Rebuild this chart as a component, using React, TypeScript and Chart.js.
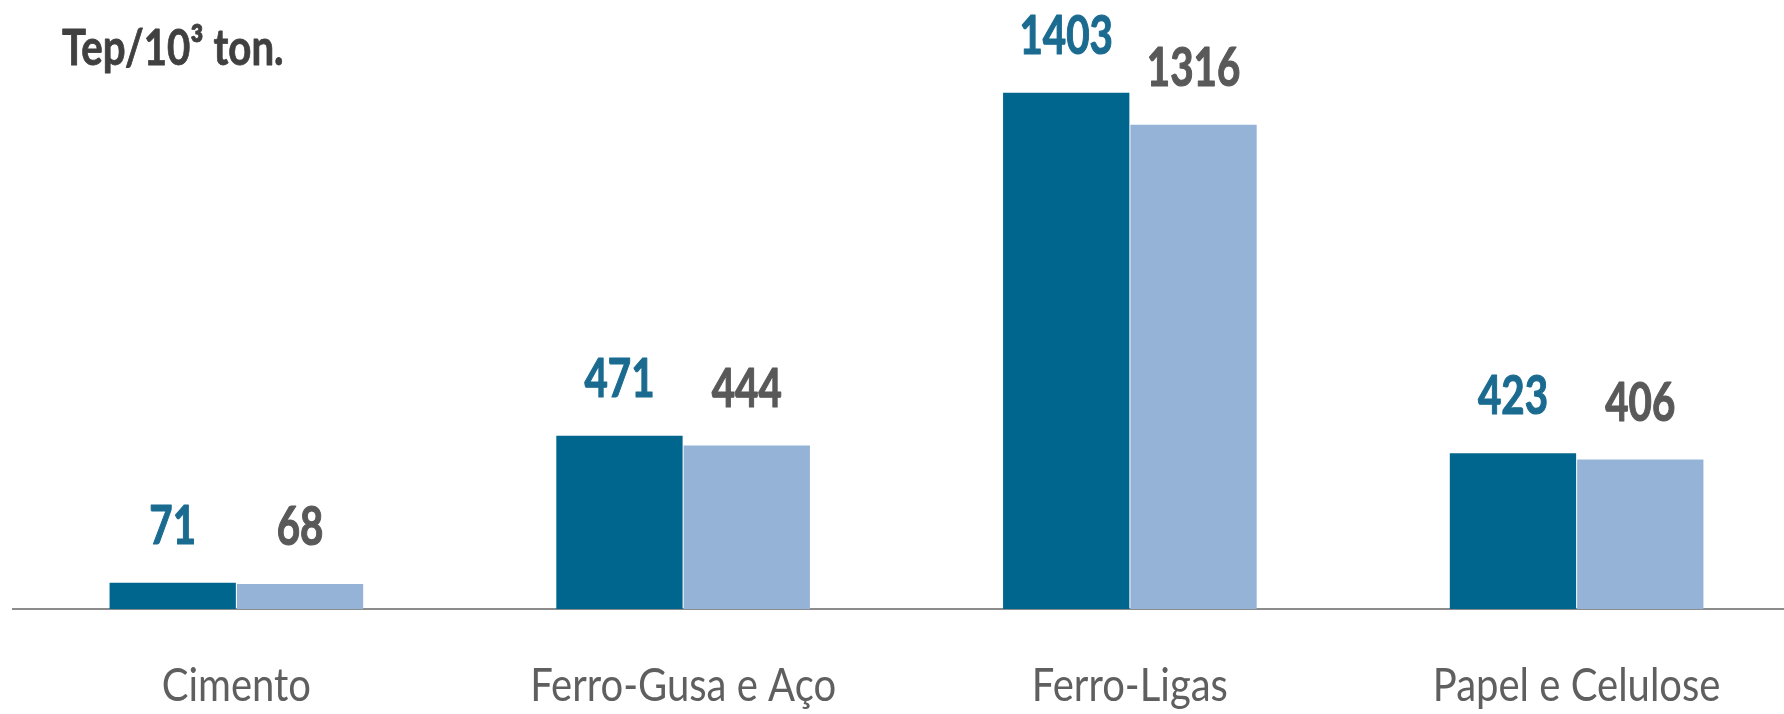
import React, { useEffect, useRef } from "react";
import { Chart, registerables } from "chart.js";

Chart.register(...registerables);

const categories = ["Cimento", "Ferro-Gusa e Aço", "Ferro-Ligas", "Papel e Celulose"];
const seriesA = [71, 471, 1403, 423];
const seriesB = [68, 444, 1316, 406];
const unitLabel = "Tep/10³ ton.";

const FONT = "Lato, 'DejaVu Sans', sans-serif";
const DARK = "#00668E";
const LIGHT = "#95B3D7";
const LABEL_A = "#1B6B90";
const LABEL_B = "#595959";

function drawSqueezed(
  ctx: CanvasRenderingContext2D,
  text: string,
  x: number,
  y: number,
  sx: number,
  align: CanvasTextAlign,
  stroke = 0
) {
  ctx.save();
  ctx.translate(x, y);
  ctx.scale(sx, 1);
  ctx.textAlign = align;
  ctx.fillText(text, 0, 0);
  if (stroke > 0) {
    ctx.lineWidth = stroke;
    ctx.lineJoin = "round";
    ctx.strokeStyle = ctx.fillStyle as string;
    ctx.strokeText(text, 0, 0);
  }
  ctx.restore();
}

const labelPlugin = {
  id: "valueLabels",
  afterDraw(chart: any) {
    const ctx = chart.ctx as CanvasRenderingContext2D;
    ctx.save();
    ctx.textBaseline = "alphabetic";
    // value labels
    ctx.font = `bold 53px ${FONT}`;
    chart.data.datasets.forEach((ds: any, di: number) => {
      const meta = chart.getDatasetMeta(di);
      ctx.fillStyle = di === 0 ? LABEL_A : LABEL_B;
      meta.data.forEach((el: any, i: number) => {
        drawSqueezed(ctx, String(ds.data[i]), el.x, el.y - 39, 0.76, "center", 1.2);
      });
    });
    // category labels
    const xs = chart.scales.x;
    ctx.font = `46px ${FONT}`;
    ctx.fillStyle = "#5F5F5F";
    categories.forEach((c, i) => {
      drawSqueezed(ctx, c, xs.getPixelForValue(i), chart.chartArea.bottom + 92, 0.87, "center");
    });
    // unit title
    ctx.font = `bold 49px ${FONT}`;
    ctx.fillStyle = "#404040";
    drawSqueezed(ctx, unitLabel, 62, 65, 0.82, "left", 0.8);
    ctx.restore();
  },
};

export default function App() {
  const ref = useRef<HTMLCanvasElement | null>(null);
  useEffect(() => {
    document.body.style.margin = "0";
    document.body.style.overflow = "hidden";
    const chart = new Chart(ref.current!, {
      type: "bar",
      data: {
        labels: categories,
        datasets: [
          { data: seriesA, backgroundColor: DARK, barPercentage: 0.992, categoryPercentage: 0.57 },
          { data: seriesB, backgroundColor: LIGHT, barPercentage: 0.992, categoryPercentage: 0.57 },
        ],
      },
      options: {
        responsive: false,
        animation: false,
        layout: { padding: { left: 13, right: 0, top: 0, bottom: 0 } },
        plugins: { legend: { display: false }, tooltip: { enabled: false } },
        scales: {
          x: {
            grid: { display: false, drawTicks: false },
            border: { display: true, color: "#8C8C8C", width: 2 },
            ticks: { display: false },
            afterFit(scale: any) {
              scale.height = 105;
            },
          },
          y: { display: false, min: 0, max: 1655 },
        },
      },
      plugins: [labelPlugin],
    });
    return () => chart.destroy();
  }, []);
  return (
    <div style={{ width: 1784, height: 714, overflow: "hidden" }}>
      <canvas ref={ref} width={1800} height={714} style={{ display: "block", width: 1800, height: 714 }} />
    </div>
  );
}
